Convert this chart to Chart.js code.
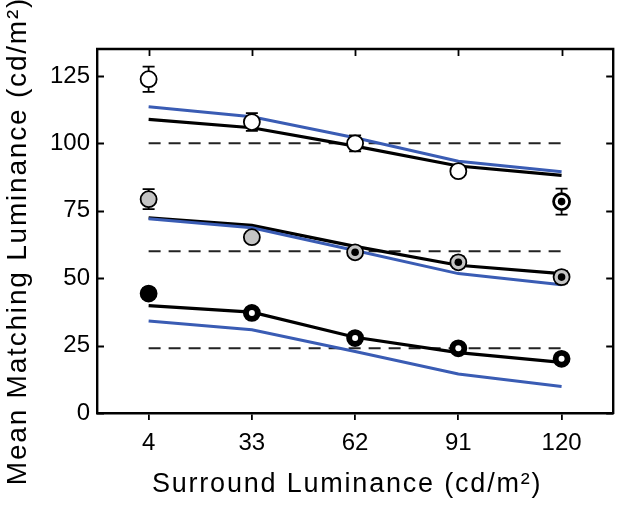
<!DOCTYPE html>
<html><head><meta charset="utf-8">
<script src="https://cdn.jsdelivr.net/npm/chart.js@4.4.0/dist/chart.umd.min.js"></script>
<style>html,body{margin:0;padding:0;background:#fff}#wrap{width:624px;height:506px}</style>
</head><body><div id="wrap"><canvas id="c" width="624" height="506"></canvas></div>
<script>
// ---- data ----
const xValues = [4, 33, 62, 91, 120];
const xTickLabels = ['4', '33', '62', '91', '120'];
const yTicks = [0, 25, 50, 75, 100, 125];
const highData = [123.8, 107.9, 100.0, 89.7, 78.4];
const highErr = [4.7, 3.3, 3.0, 1.5, 4.8];
const midData = [79.3, 65.2, 59.6, 55.9, 50.4];
const midErr = [3.7, 1.0, 1.2, 2.2, 2.3];
const lowData = [44.3, 37.1, 27.8, 24.0, 20.1];
const lowErr = [2.0, 2.0, 1.5, 1.2, 1.2];
const modelBlackHigh = [108.9, 105.8, 99.0, 91.6, 88.1];
const modelBlueHigh = [113.6, 109.9, 102.1, 93.4, 89.5];
const modelBlackMid = [72.4, 69.6, 61.8, 54.8, 51.7];
const modelBlueMid = [72.0, 68.7, 60.3, 51.7, 47.6];
const modelBlackLow = [39.8, 37.4, 28.1, 22.4, 18.8];
const modelBlueLow = [34.1, 30.9, 22.8, 14.5, 9.8];
const targetLevels = [100, 60, 24];

const FONT = '"Liberation Sans", Arial, Helvetica, sans-serif';
const BLUE = '#3a5cb4';
const GRAY = '#c4c4c4';

const pts = arr => arr.map((v, i) => ({x: xValues[i], y: v}));
const dashPts = lvl => [{x: xValues[0], y: lvl}, {x: xValues[xValues.length - 1], y: lvl}];

function lineDs(data, color, width) {
  return {type: 'line', data: pts(data), borderColor: color, borderWidth: width,
    pointRadius: 0, fill: false, tension: 0, order: 5};
}
function dashDs(lvl) {
  return {type: 'line', data: dashPts(lvl), borderColor: '#222', borderWidth: 2,
    borderDash: [12, 8], pointRadius: 0, fill: false, order: 6};
}
function markerDs(data, err, bg, bw) {
  return {type: 'line', showLine: false, data: pts(data), errors: err, isMarker: true,
    pointRadius: 8, pointBackgroundColor: bg, pointBorderColor: '#000', pointBorderWidth: bw, order: 2};
}
function dotDs(data, radii, color) {
  return {type: 'line', showLine: false, data: pts(data), pointRadius: radii,
    pointBackgroundColor: color, pointBorderWidth: 0, pointBorderColor: color, order: 1};
}

const datasets = [
  ...targetLevels.map(dashDs),
  lineDs(modelBlueHigh, BLUE, 3), lineDs(modelBlackHigh, '#000', 3.2),
  lineDs(modelBlueMid, BLUE, 3), lineDs(modelBlackMid, '#000', 3.2),
  lineDs(modelBlueLow, BLUE, 3), lineDs(modelBlackLow, '#000', 3.2),
  markerDs(highData, highErr, ['#fff','#fff','#fff','#fff','#fff'], [1.8,1.8,1.8,1.8,2.8]),
  markerDs(midData, midErr, [GRAY,GRAY,GRAY,GRAY,GRAY], 1.8),
  markerDs(lowData, lowErr, ['#000','#000','#000','#000','#000'], 1.8),
  dotDs(highData, [0,0,0,0,3.8], '#000'),
  dotDs(midData, [0,0,3.8,3.8,3.8], '#000'),
  dotDs(lowData, [0,3,3,3,3], '#fff')
];

const errorBars = {
  id: 'errorBars',
  beforeDatasetDraw(chart, args) {
    const ds = chart.data.datasets[args.index];
    if (!ds.isMarker) return;
    const {ctx, scales: {x, y}} = chart;
    ctx.save();
    ctx.strokeStyle = '#000';
    ctx.lineWidth = 1.8;
    ds.data.forEach((p, i) => {
      const e = ds.errors[i];
      const px = x.getPixelForValue(p.x);
      const y1 = y.getPixelForValue(p.y + e), y2 = y.getPixelForValue(p.y - e);
      ctx.beginPath();
      ctx.moveTo(px, y1); ctx.lineTo(px, y2);
      ctx.moveTo(px - 6, y1); ctx.lineTo(px + 6, y1);
      ctx.moveTo(px - 6, y2); ctx.lineTo(px + 6, y2);
      ctx.stroke();
    });
    ctx.restore();
  }
};

const frame = {
  id: 'frame',
  afterDatasetsDraw(chart) {
    const {ctx, chartArea: a, scales: {x, y}} = chart;
    ctx.save();
    ctx.strokeStyle = '#000';
    ctx.lineWidth = 2.4;
    ctx.beginPath();
    ctx.moveTo(a.left - 1, a.top); ctx.lineTo(a.right, a.top); ctx.lineTo(a.right, a.bottom + 1);
    ctx.stroke();
    ctx.lineWidth = 1.8;
    ctx.beginPath();
    yTicks.forEach(v => {
      const py = Math.round(y.getPixelForValue(v)) + 0.5;
      ctx.moveTo(a.left, py); ctx.lineTo(a.left + 7, py);
      ctx.moveTo(a.right, py); ctx.lineTo(a.right - 7, py);
    });
    xValues.forEach(v => {
      const px = Math.round(x.getPixelForValue(v)) + 0.5;
      ctx.moveTo(px, a.top); ctx.lineTo(px, a.top + 7);
    });
    ctx.stroke();
    ctx.restore();
  }
};

const titleStyle = {
  id: 'titleStyle',
  afterUpdate(chart) {
    const cfg = {x: [-8, 0, '1.8px'], y: [0, 10, '1.8px']};
    Object.keys(cfg).forEach(k => {
      const s = chart.scales[k];
      if (!s || s._patched) return;
      const orig = s.drawTitle.bind(s);
      const [dx, dy, sp] = cfg[k];
      s.drawTitle = function () {
        const ctx = this.ctx;
        ctx.save();
        ctx.letterSpacing = sp;
        ctx.translate(dx, dy);
        orig();
        ctx.restore();
      };
      s._patched = true;
    });
  }
};

new Chart(document.getElementById('c'), {
  type: 'line',
  data: {datasets},
  plugins: [errorBars, frame, titleStyle],
  options: {
    responsive: false, animation: false, devicePixelRatio: 1,
    layout: {padding: {top: 49, right: 8, left: 0, bottom: 0}},
    plugins: {legend: {display: false}, tooltip: {enabled: false}},
    scales: {
      x: {
        type: 'linear', min: -10.5, max: 134.5,
        afterBuildTicks: s => { s.ticks = xValues.map(v => ({value: v})); },
        afterFit: s => { s.height = 93; },
        grid: {display: true, drawOnChartArea: false, drawTicks: true, tickLength: 7, color: '#000', lineWidth: 1.8},
        border: {display: true, color: '#000', width: 2.4},
        ticks: {font: {family: FONT, size: 24}, color: '#000', padding: 9, maxRotation: 0, autoSkip: false,
          callback: (v) => xTickLabels[xValues.indexOf(v)] ?? ''},
        title: {display: true, text: 'Surround Luminance (cd/m²)', font: {family: FONT, size: 27}, color: '#000',
          padding: {top: 0, bottom: 5}}
      },
      y: {
        type: 'linear', min: 0, max: 135,
        afterBuildTicks: s => { s.ticks = yTicks.map(v => ({value: v})); },
        afterFit: s => { s.width = 97; },
        grid: {display: false, drawTicks: false},
        border: {display: true, color: '#000', width: 2.4},
        ticks: {font: {family: FONT, size: 24}, color: '#000', padding: 7},
        title: {display: true, text: 'Mean Matching Luminance (cd/m²)', font: {family: FONT, size: 28}, color: '#000',
          padding: {top: 1, bottom: 0}}
      }
    }
  }
});
</script>
</body></html>
